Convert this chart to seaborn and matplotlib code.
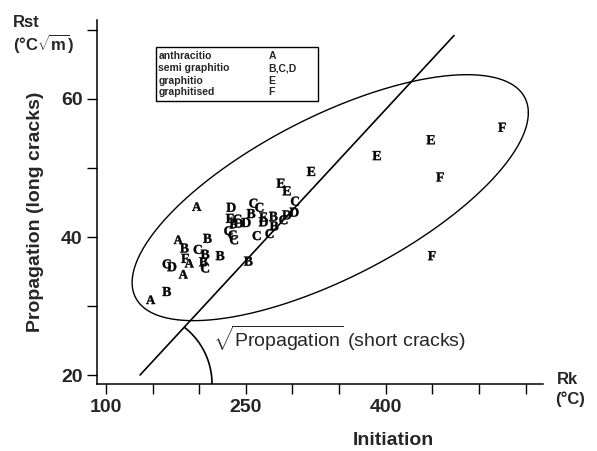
import numpy as np
import pandas as pd
import matplotlib
matplotlib.use("Agg")
import matplotlib.pyplot as plt
import seaborn as sns
from matplotlib.patches import Rectangle

# coal samples: thermal shock initiation (Rk) vs propagation (Rst), letter = rank
letters = ["A", "D", "C", "C", "B", "E", "C", "F", "D", "D",
           "C", "C", "C", "C", "E", "D", "B", "B", "C", "C",
           "D", "D", "C", "E", "E", "E", "A", "B", "B", "C",
           "B", "B", "F", "A", "B", "C", "C", "D", "A", "B",
           "B", "A", "E", "E", "F", "F", "F"]
rk = [197.3, 234.1, 258.0, 264.4, 255.5, 233.0, 240.8, 236.5, 241.9, 250.2,
      231.2, 235.7, 237.3, 261.6, 268.7, 268.7, 279.4, 280.2, 275.4, 290.2,
      293.8, 301.7, 302.7, 287.4, 293.8, 319.9, 177.5, 208.7, 184.0, 198.4,
      206.2, 222.3, 184.7, 189.3, 204.4, 206.2, 165.1, 170.5, 182.9, 252.6,
      165.1, 147.9, 448.3, 390.4, 524.8, 458.3, 449.4]
rst = [44.4, 44.3, 44.9, 44.3, 43.4, 42.7, 42.6, 41.9, 42.0, 42.1,
       40.9, 40.3, 39.6, 40.2, 42.9, 42.2, 43.0, 41.6, 40.5, 42.5,
       43.2, 43.6, 45.2, 47.8, 46.7, 49.5, 39.6, 39.8, 38.4, 38.2,
       37.5, 37.3, 36.9, 36.2, 36.4, 35.5, 36.1, 35.7, 34.6, 36.5,
       32.1, 30.9, 54.1, 51.8, 55.9, 48.7, 37.3]

legend_names = ["anthracitio", "semi graphitio", "graphitio", "graphitised"]
legend_codes = ["A", "B,C,D", "E", "F"]

# trend line and the envelope drawn round the points
line_x = [136.5, 473.3]
line_y = [20.0, 69.2]
ell_center = (340.5, 45.7)
ell_l = (212.5, 12.3, 12.9)  # x radius, x-y coupling, y radius
arc_center = (136.5, 18.7)
arc_r = (77.2, 10.43)

df = pd.DataFrame({"Rk": rk, "Rst": rst, "rank": letters})

sns.set_style("ticks")
plt.rcParams["font.family"] = ["Liberation Sans", "DejaVu Sans"]
plt.rcParams["mathtext.fontset"] = "custom"
plt.rcParams["mathtext.rm"] = "Liberation Sans"
plt.rcParams["mathtext.bf"] = "Liberation Sans:bold"
plt.rcParams["mathtext.sf"] = "Liberation Serif:bold"

fig = plt.figure(figsize=(5.97, 4.51), dpi=100)
ax = fig.add_axes([0.1625, 0.1486, 0.747, 0.8071])

markers = {k: rf"$\mathsf{{{k}}}$" for k in "ABCDEF"}
sns.scatterplot(data=df, x="Rk", y="Rst", style="rank", markers=markers,
                color="black", edgecolor="black", s=42, linewidth=0.3,
                legend=False, ax=ax)

ax.plot(line_x, line_y, color="black", lw=1.2)

t = np.linspace(0, 2 * np.pi, 400)
ex = ell_center[0] + ell_l[0] * np.cos(t)
ey = ell_center[1] + ell_l[1] * np.cos(t) + ell_l[2] * np.sin(t)
ax.plot(ex, ey, color="black", lw=1.0)

ta = np.radians(np.linspace(0, 52, 60))
ax.plot(arc_center[0] + arc_r[0] * np.cos(ta), arc_center[1] + arc_r[1] * np.sin(ta),
        color="black", lw=1.2)

ax.text(0.26, 0.126, r"$\sqrt{\mathrm{Propagation}}$ (short cracks)",
        transform=ax.transAxes, fontsize=14, va="center", ha="left")

ax.set_xlim(90.35, 568.7)
ax.set_ylim(18.7, 71.45)
ax.set_xticks([100, 250, 400])
ax.set_xticks([150, 200, 300, 350, 450, 500, 550], minor=True)
ax.set_yticks([20, 40, 60])
ax.set_yticks([30, 50, 70], minor=True)
ax.tick_params(which="both", length=7, width=1, direction="out", color="black")
for lab in ax.get_xticklabels() + ax.get_yticklabels():
    lab.set_fontweight("bold")
    lab.set_fontsize(14)
sns.despine(ax=ax)
for s in ["left", "bottom"]:
    ax.spines[s].set_linewidth(1.1)
    ax.spines[s].set_color("black")

ax.set_xlabel("Initiation", fontsize=14, fontweight="bold")
ax.xaxis.set_label_coords(0.664, -0.132)
ax.set_ylabel("Propagation (long cracks)", fontsize=14, fontweight="bold")
ax.yaxis.set_label_coords(-0.119, 0.4725)

fig.text(0.022, 0.967, "Rst", fontsize=12, fontweight="bold", va="top")
fig.text(0.022, 0.929, r"(°C$\sqrt{\mathbf{m}}$)", fontsize=12, fontweight="bold", va="top")
fig.text(0.933, 0.175, "Rk", fontsize=12, fontweight="bold", va="top")
fig.text(0.930, 0.131, "(°C)", fontsize=12, fontweight="bold", va="top")

# legend box
ax.add_patch(Rectangle((0.1323, 0.7775), 0.3632, 0.1483, transform=ax.transAxes,
                       fill=False, edgecolor="black", lw=1.0))
rows_y = [0.9019, 0.8673, 0.8332, 0.8014]
for name, code, yy in zip(legend_names, legend_codes, rows_y):
    ax.text(0.1374, yy, name, transform=ax.transAxes, fontsize=7.5,
            fontweight="bold", va="center")
    ax.text(0.3841, yy, code, transform=ax.transAxes, fontsize=7.5,
            fontweight="bold", va="center")

fig.savefig("out.png", dpi=100)
